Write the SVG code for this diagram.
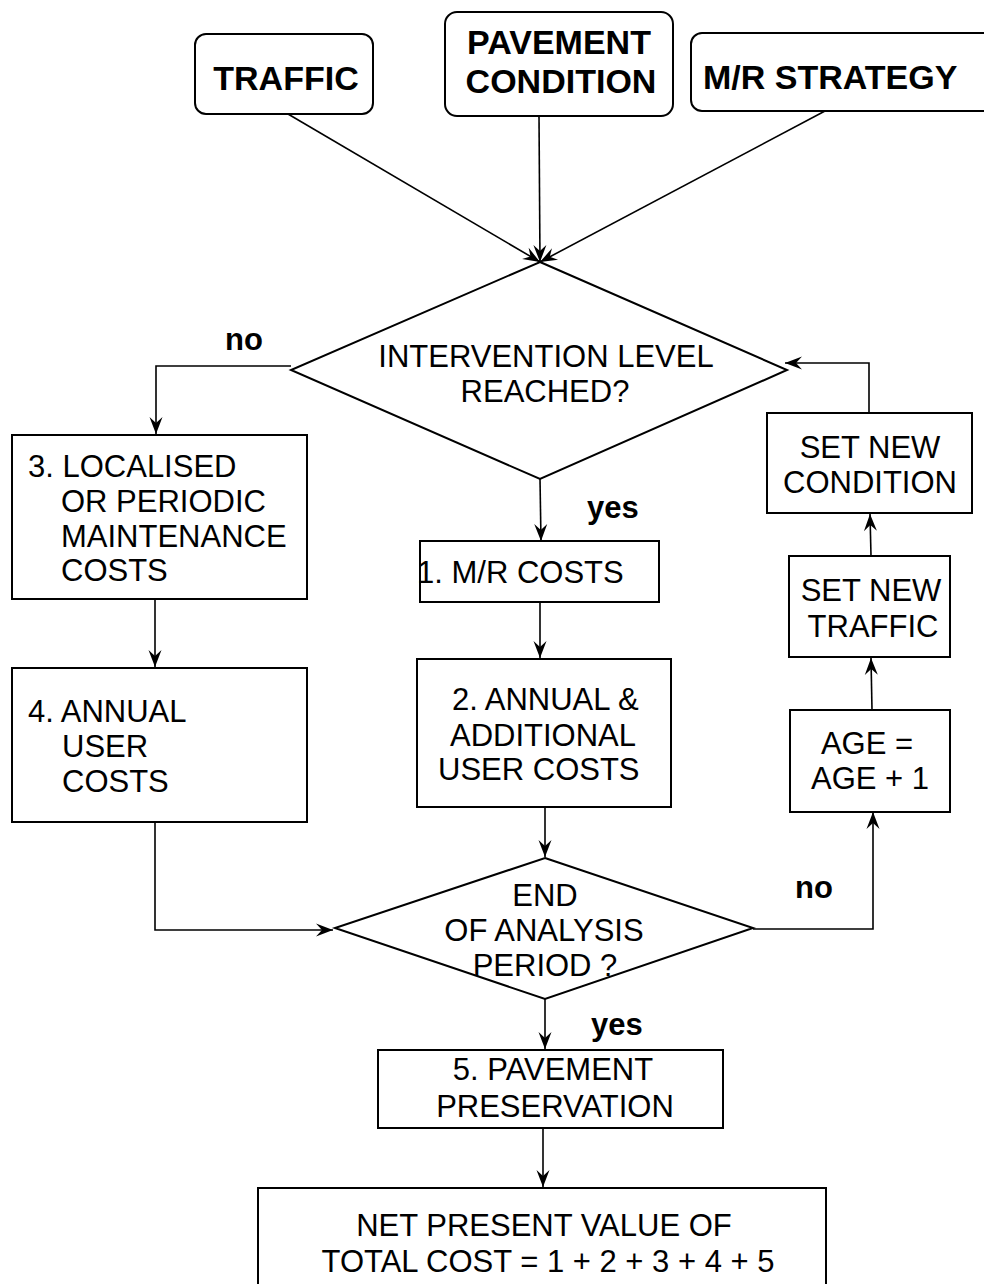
<svg xmlns="http://www.w3.org/2000/svg" width="984" height="1284" viewBox="0 0 984 1284">
<style>
.box{fill:#fff;stroke:#000;stroke-width:2}
.t{font-family:"Liberation Sans",Arial,sans-serif;font-size:31px;fill:#000}
.b{font-family:"Liberation Sans",Arial,sans-serif;font-size:34px;font-weight:bold;fill:#000}
.lbl{font-family:"Liberation Sans",Arial,sans-serif;font-size:31px;font-weight:bold;fill:#000}
.c{text-anchor:middle}
.ln{fill:none;stroke:#000;stroke-width:1.6}
</style>
<defs>
<marker id="ah" markerUnits="userSpaceOnUse" viewBox="-18 -8 20 16" refX="0" refY="0" markerWidth="20" markerHeight="16" orient="auto">
<path d="M0,0 L-17,-6.5 L-11,0 L-17,6.5 Z" fill="#000"/>
</marker>
</defs>
<rect width="984" height="1284" fill="#fff"/>

<g id="connectors">
<line class="ln" x1="288" y1="114" x2="540" y2="262" marker-end="url(#ah)"/>
<line class="ln" x1="539" y1="116" x2="540" y2="262" marker-end="url(#ah)"/>
<line class="ln" x1="825" y1="111" x2="540" y2="262" marker-end="url(#ah)"/>
<path class="ln" d="M291,366 H156 V434" marker-end="url(#ah)"/>
<line class="ln" x1="155" y1="599" x2="155" y2="667" marker-end="url(#ah)"/>
<path class="ln" d="M155,822 V930 H333" marker-end="url(#ah)"/>
<line class="ln" x1="540" y1="479" x2="541" y2="541" marker-end="url(#ah)"/>
<line class="ln" x1="540" y1="602" x2="540" y2="658" marker-end="url(#ah)"/>
<line class="ln" x1="545" y1="807" x2="545" y2="857" marker-end="url(#ah)"/>
<path class="ln" d="M753,929 H873 V812" marker-end="url(#ah)"/>
<line class="ln" x1="872" y1="710" x2="871" y2="658" marker-end="url(#ah)"/>
<line class="ln" x1="871" y1="556" x2="870" y2="514" marker-end="url(#ah)"/>
<path class="ln" d="M869,413 V363 H785" marker-end="url(#ah)"/>
<line class="ln" x1="545" y1="999" x2="545" y2="1049" marker-end="url(#ah)"/>
<line class="ln" x1="543" y1="1128" x2="543" y2="1187" marker-end="url(#ah)"/>
</g>

<g id="traffic">
<rect class="box" x="195" y="34" width="178" height="80" rx="11"/>
<text class="b c" x="286" y="90">TRAFFIC</text>
</g>
<g id="pavement-condition">
<rect class="box" x="445" y="12" width="228" height="104" rx="12"/>
<text class="b c" x="559" y="54">PAVEMENT</text>
<text class="b c" x="561" y="93">CONDITION</text>
</g>
<g id="mr-strategy">
<rect class="box" x="691" y="33" width="320" height="78" rx="11"/>
<text class="b" x="703" y="89">M/R STRATEGY</text>
</g>

<g id="intervention">
<polygon class="box" points="540,262 787,370 540,479 291,370"/>
<text class="t c" x="546" y="367">INTERVENTION LEVEL</text>
<text class="t c" x="545" y="402">REACHED?</text>
</g>

<g id="labels">
<text class="lbl" x="225" y="350">no</text>
<text class="lbl" x="587" y="518">yes</text>
<text class="lbl" x="795" y="898">no</text>
<text class="lbl" x="591" y="1035">yes</text>
</g>

<g id="localised">
<rect class="box" x="12" y="435" width="295" height="164"/>
<text class="t" x="28" y="477">3. LOCALISED</text>
<text class="t" x="61" y="512">OR PERIODIC</text>
<text class="t" x="61" y="547">MAINTENANCE</text>
<text class="t" x="61" y="581">COSTS</text>
</g>

<g id="annual-user">
<rect class="box" x="12" y="668" width="295" height="154"/>
<text class="t" x="28" y="722">4. ANNUAL</text>
<text class="t" x="62" y="757">USER</text>
<text class="t" x="62" y="792">COSTS</text>
</g>

<g id="mr-costs">
<rect class="box" x="420" y="541" width="239" height="61"/>
<text class="t" x="417" y="583">1. M/R COSTS</text>
</g>

<g id="annual-additional">
<rect class="box" x="417" y="659" width="254" height="148"/>
<text class="t" x="452" y="710">2. ANNUAL &amp;</text>
<text class="t" x="450" y="746">ADDITIONAL</text>
<text class="t" x="438" y="780">USER COSTS</text>
</g>

<g id="end-analysis">
<polygon class="box" points="545,858 753,928 545,999 335,928"/>
<text class="t c" x="545" y="906">END</text>
<text class="t c" x="544" y="941">OF ANALYSIS</text>
<text class="t c" x="545" y="976">PERIOD ?</text>
</g>

<g id="set-new-condition">
<rect class="box" x="767" y="413" width="205" height="100"/>
<text class="t c" x="870" y="458">SET NEW</text>
<text class="t c" x="870" y="493">CONDITION</text>
</g>

<g id="set-new-traffic">
<rect class="box" x="789" y="556" width="161" height="101"/>
<text class="t c" x="871" y="601">SET NEW</text>
<text class="t c" x="873" y="637">TRAFFIC</text>
</g>

<g id="age">
<rect class="box" x="790" y="710" width="160" height="102"/>
<text class="t c" x="867" y="754">AGE =</text>
<text class="t c" x="870" y="789">AGE + 1</text>
</g>

<g id="preservation">
<rect class="box" x="378" y="1050" width="345" height="78"/>
<text class="t c" x="553" y="1080">5. PAVEMENT</text>
<text class="t c" x="555" y="1117">PRESERVATION</text>
</g>

<g id="npv">
<rect class="box" x="258" y="1188" width="568" height="130"/>
<text class="t c" x="544" y="1236">NET PRESENT VALUE OF</text>
<text class="t c" x="548" y="1272">TOTAL COST = 1 + 2 + 3 + 4 + 5</text>
</g>
</svg>
